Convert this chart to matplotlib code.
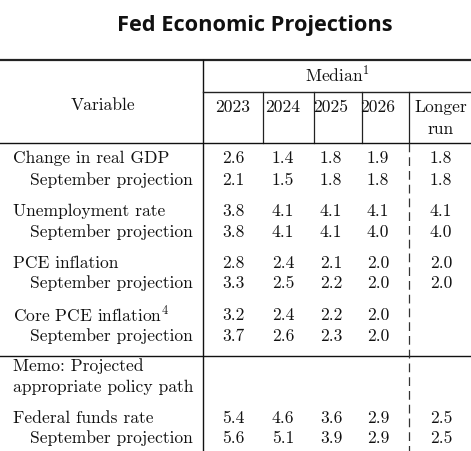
import matplotlib
matplotlib.use("Agg")
import matplotlib.pyplot as plt

plt.rcParams['mathtext.fontset'] = 'cm'

title = "Fed Economic Projections"
years = ["2023", "2024", "2025", "2026"]
longer = "Longer\nrun"

labels = ["Change in real GDP", "September projection",
          "Unemployment rate", "September projection",
          "PCE inflation", "September projection",
          r"Core PCE inflation$^4$", "September projection",
          "Memo: Projected", "appropriate policy path",
          "Federal funds rate", "September projection"]
indent = [0, 1, 0, 1, 0, 1, 0, 1, 0, 0, 0, 1]

v2023 = ["2.6", "2.1", "3.8", "3.8", "2.8", "3.3", "3.2", "3.7", "", "", "5.4", "5.6"]
v2024 = ["1.4", "1.5", "4.1", "4.1", "2.4", "2.5", "2.4", "2.6", "", "", "4.6", "5.1"]
v2025 = ["1.8", "1.8", "4.1", "4.1", "2.1", "2.2", "2.2", "2.3", "", "", "3.6", "3.9"]
v2026 = ["1.9", "1.8", "4.1", "4.0", "2.0", "2.0", "2.0", "2.0", "", "", "2.9", "2.9"]
vlong = ["1.8", "1.8", "4.1", "4.0", "2.0", "2.0", "", "", "", "", "2.5", "2.5"]

# layout (pixel coords)
row_y = [158, 180, 211, 232, 263, 283, 315, 336, 366, 387, 418, 438]
col_x = [233, 283, 331, 378, 441]
W, H = 471, 451

fig = plt.figure(figsize=(W / 100, H / 100), dpi=100)
ax = fig.add_axes([0, 0, 1, 1])
ax.set_xlim(0, W)
ax.set_ylim(H, 0)
ax.axis('off')

fs = 12.6
tf = dict(family='cmr10', fontsize=fs, color='#111111')

ax.text(255, 26, title, ha='center', va='center',
        family='Open Sans', fontweight='bold', fontsize=15.7, color='#111111')

# rules
ax.plot([0, W], [60, 60], color='#222222', lw=1.6)
ax.plot([203, 203], [60, H], color='#111111', lw=1.0)
ax.plot([203, W], [92, 92], color='#222222', lw=1.0)
for x in [263, 314, 362, 409]:
    ax.plot([x, x], [92, 143], color='#222222', lw=0.9)
ax.plot([0, W], [143, 143], color='#111111', lw=1.0)
ax.plot([0, W], [356, 356], color='#111111', lw=1.0)
ax.plot([409, 409], [143, H], color='#333333', lw=0.9, linestyle=(0, (7, 4)))

# header
ax.text(103, 105, "Variable", ha='center', va='center', **tf)
ax.text(337, 75, r"Median$^1$", ha='center', va='center', **tf)
for x, yr in zip(col_x, years):
    ax.text(x, 107, yr, ha='center', va='center', **tf)
ax.text(col_x[4], 107, longer.split("\n")[0], ha='center', va='center', **tf)
ax.text(col_x[4], 129, longer.split("\n")[1], ha='center', va='center', **tf)

# body
for i, lab in enumerate(labels):
    ax.text(13 + 17 * indent[i], row_y[i], lab, ha='left', va='center', **tf)
    for x, col in zip(col_x, [v2023, v2024, v2025, v2026, vlong]):
        if col[i]:
            ax.text(x, row_y[i], col[i], ha='center', va='center', **tf)

fig.savefig("out.png", dpi=100)
